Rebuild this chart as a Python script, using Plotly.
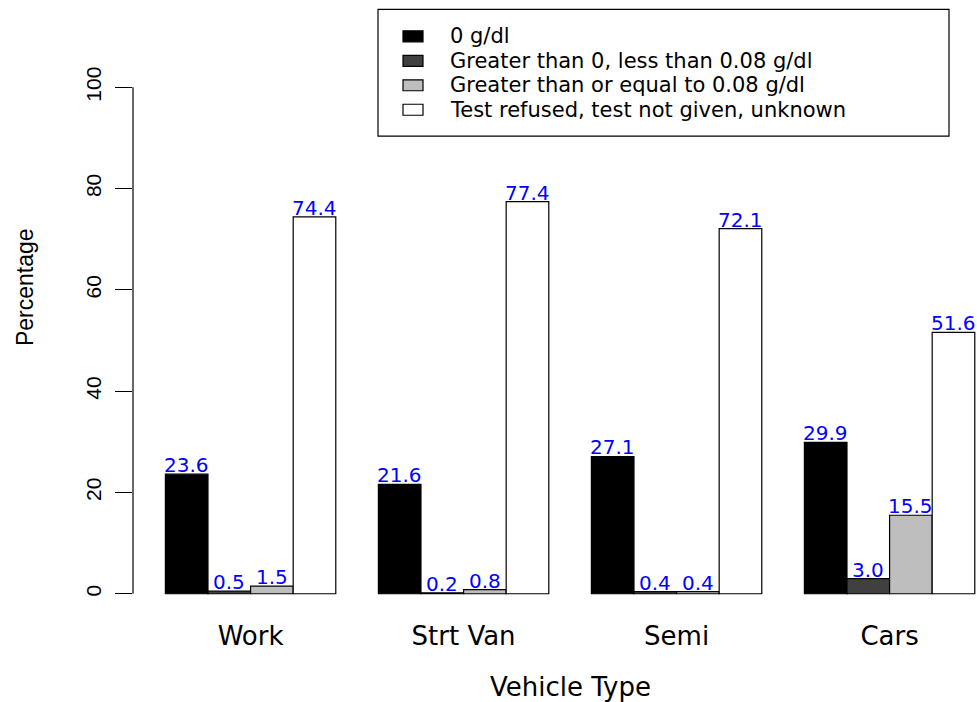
import plotly.graph_objects as go

# ---- data ----
categories = ["Work", "Strt Van", "Semi", "Cars"]
series_names = [
    "0 g/dl",
    "Greater than 0, less than 0.08 g/dl",
    "Greater than or equal to 0.08 g/dl",
    "Test refused, test not given, unknown",
]
zero_bac = [23.6, 21.6, 27.1, 29.9]
low_bac = [0.5, 0.2, 0.4, 3.0]
high_bac = [1.5, 0.8, 0.4, 15.5]
unknown_bac = [74.4, 77.4, 72.1, 51.6]
y_ticks = [0, 20, 40, 60, 80, 100]

series_values = [zero_bac, low_bac, high_bac, unknown_bac]
colors = ["#000000", "#404040", "#BEBEBE", "#FFFFFF"]

# ---- layout geometry (pixels) ----
W, H = 977, 702
ML, MR, MT, MB = 133, 0, 66.7, 87.7
PW = W - ML - MR
PH = H - MT - MB


def px2x(px):
    return (px - ML) / PW


def py2y(py):
    return (H - MB - py) / PH


H_FONT = "DejaVu Sans"
R_FONT = "Liberation Sans, Arial"

fig = go.Figure()
annotations = []

n_series = len(series_names)
for j, (name, vals) in enumerate(zip(series_names, series_values)):
    xs = [g * (n_series + 1) + 1 + j + 0.5 for g in range(len(categories))]
    fig.add_trace(go.Bar(
        x=xs, y=vals, width=1, name=name,
        marker=dict(color=colors[j], line=dict(color="#000000", width=1.2)),
        hoverinfo="x+y",
    ))
    for x, v in zip(xs, vals):
        annotations.append(dict(
            x=x, y=v, xref="x", yref="y", text=f"{v:.1f}", showarrow=False,
            yanchor="bottom", xanchor="center", yshift=-5,
            font=dict(family=H_FONT, size=20, color="#0000FF"),
        ))

group_centers = [g * (n_series + 1) + 1 + n_series / 2 for g in range(len(categories))]

# axis titles
annotations.append(dict(
    x=px2x(570), y=py2y(687), xref="paper", yref="paper", text="Vehicle Type",
    showarrow=False, xanchor="center", yanchor="middle",
    font=dict(family=H_FONT, size=26, color="#000000"),
))
annotations.append(dict(
    x=px2x(25), y=py2y(287), xref="paper", yref="paper", text="Percentage",
    showarrow=False, xanchor="center", yanchor="middle", textangle=-90,
    font=dict(family=R_FONT, size=23, color="#000000"),
))

# legend (manual, to match the compact R legend)
shapes = []
shapes.append(dict(type="rect", xref="paper", yref="paper",
                   x0=px2x(378), x1=px2x(949), y0=py2y(9), y1=py2y(136),
                   line=dict(color="#000000", width=1.2), fillcolor="#FFFFFF", layer="above"))
row_centers = [36, 60.5, 85, 109.5]
for j, name in enumerate(series_names):
    cy = row_centers[j]
    shapes.append(dict(type="rect", xref="paper", yref="paper",
                       x0=px2x(403), x1=px2x(423), y0=py2y(cy - 5.5), y1=py2y(cy + 5.5),
                       line=dict(color="#000000", width=1.2), fillcolor=colors[j], layer="above"))
    annotations.append(dict(
        x=px2x(448), y=py2y(cy), xref="paper", yref="paper", text=name,
        showarrow=False, xanchor="left", yanchor="middle",
        font=dict(family=H_FONT, size=21, color="#000000"),
    ))

# y axis line only from 0 to 100 (like R)
shapes.append(dict(type="line", xref="paper", yref="y", x0=0, x1=0,
                   y0=y_ticks[0], y1=y_ticks[-1], line=dict(color="#000000", width=1.2)))

fig.update_layout(
    width=W, height=H,
    margin=dict(l=ML, r=MR, t=MT, b=MB, pad=0),
    paper_bgcolor="#FFFFFF", plot_bgcolor="#FFFFFF",
    barmode="overlay", showlegend=False,
    annotations=annotations, shapes=shapes,
    xaxis=dict(
        range=[0.24, 0.24 + PW / 42.6],
        tickmode="array", tickvals=group_centers, ticktext=categories,
        showgrid=False, zeroline=False, showline=False, ticks="",
        tickfont=dict(family=H_FONT, size=26, color="#000000"),
        ticklabelstandoff=4,
    ),
    yaxis=dict(
        range=[-4, 104],
        tickmode="array", tickvals=y_ticks, ticktext=[str(t) for t in y_ticks],
        showgrid=False, zeroline=False, showline=False,
        ticks="outside", ticklen=17, tickwidth=1.2, tickcolor="#000000",
        tickangle=-90,
        tickfont=dict(family=R_FONT, size=21, color="#000000"),
        ticklabelstandoff=6,
    ),
)

fig.write_html("out.html")
